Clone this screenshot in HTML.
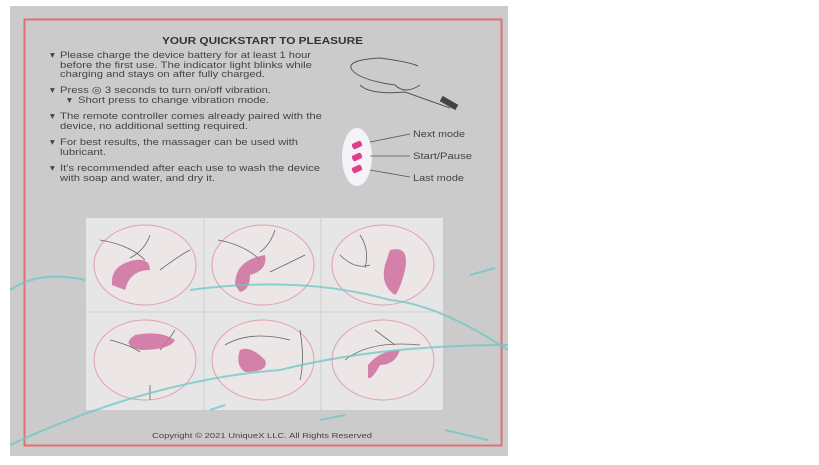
<!DOCTYPE html>
<html><head><style>
body{margin:0;background:#fff;width:819px;height:460px;overflow:hidden;font-family:"Liberation Sans",sans-serif}
</style></head><body>
<svg width="819" height="460" xmlns="http://www.w3.org/2000/svg" font-family="Liberation Sans, sans-serif">
<rect x="10" y="6" width="498" height="450" fill="#cbcbcb"/>
<rect x="24.5" y="19.5" width="477" height="426" fill="none" stroke="#e07070" stroke-width="2"/>
<text x="162" y="44" textLength="201" lengthAdjust="spacingAndGlyphs" font-size="10.5" font-weight="bold" fill="#333">YOUR QUICKSTART TO PLEASURE</text>
<g font-size="9.5" fill="#444">
<text x="50" y="58">▾</text><text x="60" y="58" textLength="251" lengthAdjust="spacingAndGlyphs">Please charge the device battery for at least 1 hour</text>
<text x="60" y="68" textLength="252" lengthAdjust="spacingAndGlyphs">before the first use. The indicator light blinks while</text>
<text x="60" y="77" textLength="205" lengthAdjust="spacingAndGlyphs">charging and stays on after fully charged.</text>
<text x="50" y="93">▾</text><text x="60" y="93" textLength="211" lengthAdjust="spacingAndGlyphs">Press ◎ 3 seconds to turn on/off vibration.</text>
<text x="67" y="103">▾</text><text x="78" y="103" textLength="191" lengthAdjust="spacingAndGlyphs">Short press to change vibration mode.</text>
<text x="50" y="119">▾</text><text x="60" y="119" textLength="262" lengthAdjust="spacingAndGlyphs">The remote controller comes already paired with the</text>
<text x="60" y="129" textLength="188" lengthAdjust="spacingAndGlyphs">device, no additional setting required.</text>
<text x="50" y="145">▾</text><text x="60" y="145" textLength="238" lengthAdjust="spacingAndGlyphs">For best results, the massager can be used with</text>
<text x="60" y="155" textLength="46" lengthAdjust="spacingAndGlyphs">lubricant.</text>
<text x="50" y="171">▾</text><text x="60" y="171" textLength="260" lengthAdjust="spacingAndGlyphs">It's recommended after each use to wash the device</text>
<text x="60" y="181" textLength="155" lengthAdjust="spacingAndGlyphs">with soap and water, and dry it.</text>
<text x="413" y="137" textLength="52" lengthAdjust="spacingAndGlyphs">Next mode</text>
<text x="413" y="159" textLength="59" lengthAdjust="spacingAndGlyphs">Start/Pause</text>
<text x="413" y="181" textLength="51" lengthAdjust="spacingAndGlyphs">Last mode</text>
</g>
<path d="M352 70 Q345 60 380 58 Q410 62 418 66 M352 70 Q360 80 395 85 Q405 95 420 85 M360 85 Q370 95 405 92 L450 108" fill="none" stroke="#555" stroke-width="1"/>
<rect x="440" y="100" width="18" height="6" fill="#444" transform="rotate(30 449 103)"/>
<ellipse cx="357" cy="157" rx="15" ry="29" fill="#f5f3f8"/>
<g fill="#e0408a"><rect x="352" y="142" width="10" height="6" rx="2" transform="rotate(-25 357 145)"/><rect x="352" y="154" width="10" height="6" rx="2" transform="rotate(-25 357 157)"/><rect x="352" y="166" width="10" height="6" rx="2" transform="rotate(-25 357 169)"/></g>
<g stroke="#555" stroke-width="0.8"><line x1="370" y1="142" x2="410" y2="134"/><line x1="370" y1="156" x2="410" y2="156"/><line x1="370" y1="170" x2="410" y2="177"/></g>
<rect x="86" y="218" width="357" height="192" fill="#e6e6e6"/>
<g stroke="#d0d0d0"><line x1="204" y1="218" x2="204" y2="410"/><line x1="321" y1="218" x2="321" y2="410"/><line x1="86" y1="312" x2="443" y2="312"/></g>
<g fill="#ece6e6" stroke="#e0a0b0" stroke-width="1">
<ellipse cx="145" cy="265" rx="51" ry="40"/><ellipse cx="263" cy="265" rx="51" ry="40"/><ellipse cx="383" cy="265" rx="51" ry="40"/>
<ellipse cx="145" cy="360" rx="51" ry="40"/><ellipse cx="263" cy="360" rx="51" ry="40"/><ellipse cx="383" cy="360" rx="51" ry="40"/></g>
<g fill="none" stroke="#666" stroke-width="0.8">
<path d="M100 240 Q130 245 145 260 M150 235 Q145 250 130 258 M160 270 Q180 255 190 250"/>
<path d="M218 240 Q245 245 260 260 M275 230 Q270 245 260 252 M270 272 Q295 260 305 255"/>
<path d="M340 255 Q355 270 370 265 M360 235 Q370 250 365 268"/>
<path d="M110 340 Q130 345 140 352 M150 385 L150 400 M175 330 Q165 345 160 350"/>
<path d="M225 345 Q250 330 290 340 M300 330 Q305 360 300 380"/>
<path d="M345 360 Q370 340 420 345 M375 330 L395 345"/>
</g>
<g fill="#d070a0" opacity="0.85">
<path d="M112 285 Q110 265 135 260 Q150 258 150 270 Q130 270 125 290 Z"/>
<path d="M235 285 Q235 260 265 255 Q268 270 250 275 Q250 290 240 292Z"/>
<path d="M390 250 Q410 245 405 270 Q400 290 395 295 Q380 285 385 265Z"/>
<path d="M135 335 Q160 330 175 340 Q170 350 140 350 Q120 345 135 335Z"/>
<path d="M240 350 Q250 345 265 360 Q270 372 245 372 Q235 365 240 350Z"/>
<path d="M368 365 Q380 350 400 350 Q395 365 380 365 Q372 380 368 378Z"/>
</g>
<g fill="none" stroke="#6cc8c8" stroke-width="2" opacity="0.75">
<path d="M10 290 Q40 270 85 280"/>
<path d="M190 290 Q300 275 390 300 Q440 305 508 350"/>
<path d="M10 445 Q150 380 280 370 Q380 345 508 345"/>
<path d="M470 275 L495 268"/>
<path d="M210 410 L225 405"/><path d="M320 420 L345 415"/><path d="M445 430 L488 440"/>
</g>
<text x="152" y="438" textLength="220" lengthAdjust="spacingAndGlyphs" font-size="7.5" fill="#444">Copyright © 2021 UniqueX LLC. All Rights Reserved</text>
</svg>
</body></html>
